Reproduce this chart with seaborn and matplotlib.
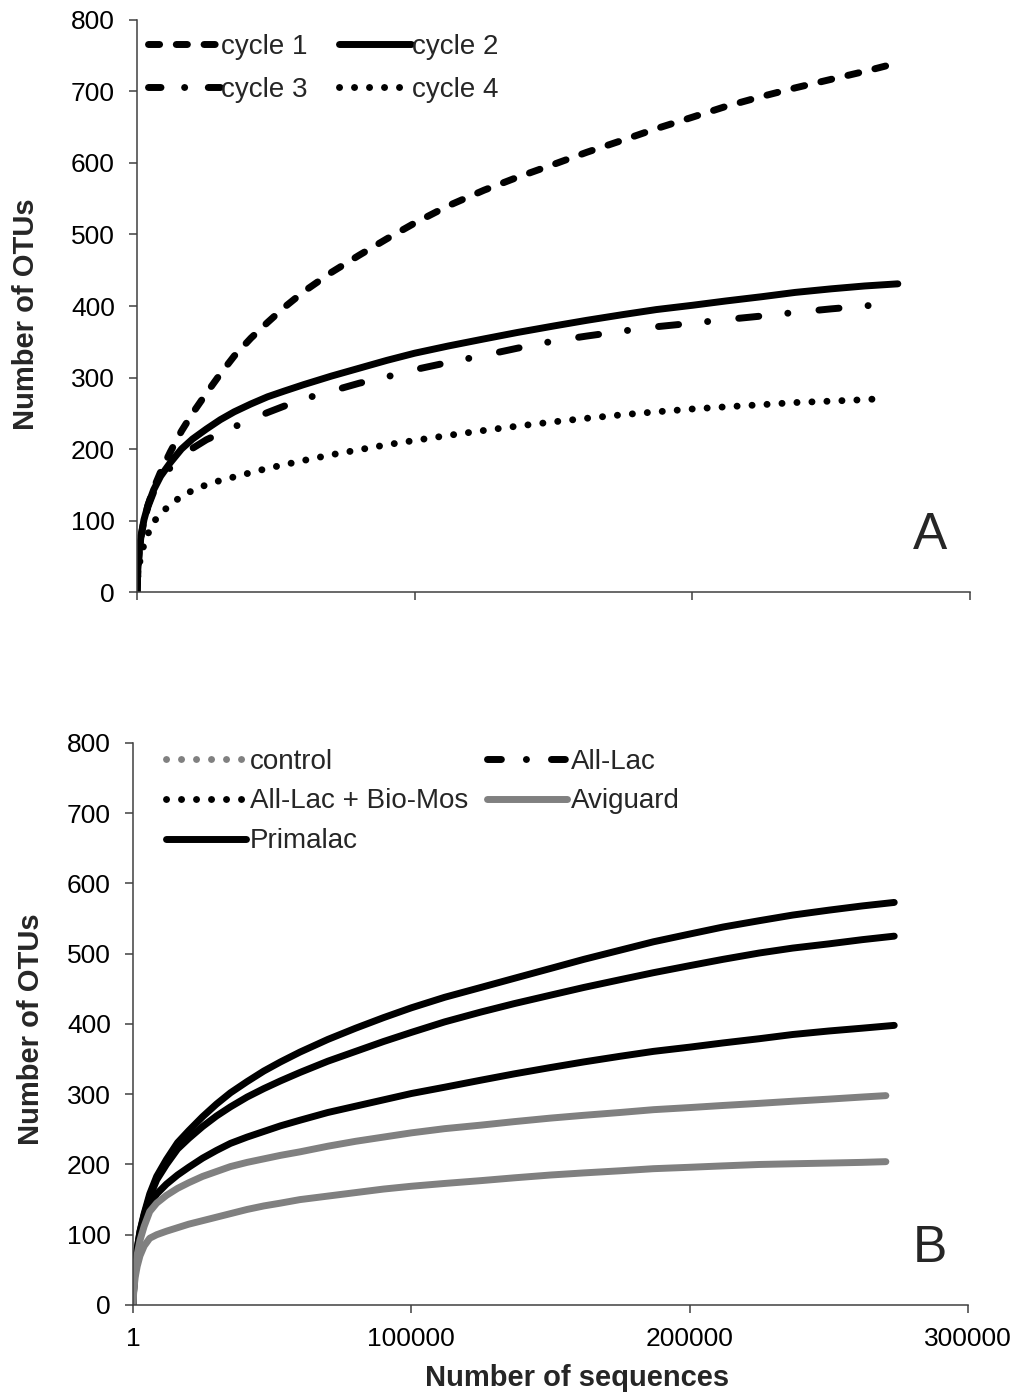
"""
Rarefaction curves (OTUs vs sequences): panel A by cycle, panel B by treatment.
Saves out.png
"""
import matplotlib
matplotlib.use("Agg")
import matplotlib.pyplot as plt
from matplotlib.lines import Line2D
import pandas as pd
import seaborn as sns

# Panel A: rarefaction by cycle
x_a = [1, 300, 800, 1500, 2500, 4000, 6000, 8500, 12000, 16000, 20000, 25000,
       30000, 35000, 41000, 47000, 53000, 60000, 70000, 80000, 90000, 100000,
       112000, 125000, 137000, 150000, 162000, 175000, 187000, 200000, 212000,
       225000, 237000, 250000, 262000, 274000]
x_a_c4 = x_a[:-1] + [270000]
cycle1 = [1, 30, 55, 78, 100, 122, 145, 168, 196, 225, 250, 278, 305, 330, 355,
          377, 398, 420, 447, 471, 494, 516, 540, 562, 580, 598, 615, 632, 648,
          664, 679, 693, 705, 717, 728, 740]
cycle2 = [1, 32, 57, 80, 101, 122, 143, 162, 181, 200, 214, 228, 241, 252, 263,
          273, 281, 290, 302, 313, 324, 334, 344, 354, 363, 372, 380, 388, 395,
          401, 407, 413, 419, 424, 428, 431]
cycle3 = [1, 30, 55, 78, 99, 120, 140, 157, 174, 190, 201, 213, 222, 231, 241,
          251, 260, 270, 281, 292, 301, 311, 321, 331, 341, 351, 358, 365, 371,
          376, 381, 386, 391, 396, 400, 405]
cycle4 = [1, 22, 38, 52, 66, 82, 98, 110, 122, 134, 142, 150, 156, 161, 167,
          173, 178, 184, 192, 199, 206, 212, 219, 226, 232, 238, 243, 248, 252,
          256, 259, 262, 265, 267, 269, 271]

# Panel B: rarefaction by treatment
x_b = x_a[:-1] + [273500]
x_b_gray = x_a[:-1] + [270500]
primalac = [1, 30, 55, 80, 105, 130, 158, 183, 207, 231, 248, 268, 286, 302,
            318, 333, 346, 360, 378, 394, 409, 423, 438, 452, 465, 479, 492,
            505, 517, 528, 538, 547, 555, 562, 568, 573]
all_lac = [1, 30, 55, 80, 104, 128, 154, 178, 200, 222, 237, 254, 269, 282,
           296, 308, 319, 331, 347, 361, 375, 388, 403, 417, 429, 441, 452,
           463, 473, 483, 492, 501, 508, 514, 520, 525]
all_lac_biomos = [1, 28, 52, 75, 97, 118, 142, 158, 172, 185, 196, 209, 220,
                  230, 239, 247, 255, 263, 274, 283, 292, 301, 310, 320, 329,
                  338, 346, 354, 361, 367, 373, 379, 385, 390, 394, 398]
aviguard = [1, 27, 50, 72, 92, 112, 133, 145, 156, 166, 174, 183, 190, 197,
            203, 208, 213, 218, 226, 233, 239, 245, 251, 256, 261, 266, 270,
            274, 278, 281, 284, 287, 290, 293, 296, 298]
control = [1, 22, 40, 55, 70, 84, 95, 100, 105, 110, 115, 120, 125, 130, 136,
           141, 145, 150, 155, 160, 165, 169, 173, 177, 181, 185, 188, 191,
           194, 196, 198, 200, 201, 202, 203, 204]

y_ticks = [0, 100, 200, 300, 400, 500, 600, 700, 800]
x_ticks = [1, 100000, 200000, 300000]
x_ticklabels = ["1", "100000", "200000", "300000"]


def long_form(series):
    rows = []
    for name, xs, ys in series:
        rows.append(pd.DataFrame({"seq": xs, "otus": ys, "group": name}))
    return pd.concat(rows, ignore_index=True)


df_a = long_form([("cycle 1", x_a, cycle1), ("cycle 2", x_a, cycle2),
                  ("cycle 3", x_a, cycle3), ("cycle 4", x_a_c4, cycle4)])
df_b = long_form([("Primalac", x_b, primalac), ("All-Lac", x_b, all_lac),
                  ("All-Lac + Bio-Mos", x_b, all_lac_biomos),
                  ("Aviguard", x_b_gray, aviguard), ("control", x_b_gray, control)])

sns.set_style("ticks")
plt.rcParams["font.family"] = ["Liberation Sans", "DejaVu Sans"]

LW = 5.0
DASH = (1.6, 2.4)
DASHDOT = (2.9, 4.2, 0.01, 4.5)
DOT = (0.01, 2.15)
# legend keys show "dash . dash"
DASHDOT_KEY_A = (1.8, 3.4, 0.01, 3.4)
DASHDOT_KEY_B = (2.0, 3.6, 0.01, 3.6)
SPINE = "#404040"
GRAY = "#808080"

fig = plt.figure(figsize=(10.24, 13.96), dpi=100)
ax_a = fig.add_axes([0.1338, 0.5759, 0.8135, 0.4098])
ax_b = fig.add_axes([0.1299, 0.0652, 0.8154, 0.4026])

# Panel A
sns.lineplot(data=df_a, x="seq", y="otus", hue="group", style="group",
             palette={"cycle 1": "black", "cycle 2": "black",
                      "cycle 3": "black", "cycle 4": "black"},
             dashes={"cycle 1": DASH, "cycle 2": "", "cycle 3": DASHDOT,
                     "cycle 4": DOT},
             estimator=None, sort=False, legend=False, linewidth=LW,
             dash_capstyle="round", solid_capstyle="round", ax=ax_a)

# Panel B: all curves drawn solid, as in the original
sns.lineplot(data=df_b, x="seq", y="otus", hue="group",
             palette={"Primalac": "black", "All-Lac": "black",
                      "All-Lac + Bio-Mos": "black", "Aviguard": GRAY,
                      "control": GRAY},
             estimator=None, sort=False, legend=False, linewidth=LW,
             solid_capstyle="round", ax=ax_b)

for ax in (ax_a, ax_b):
    ax.set_xlim(0, 300000)
    ax.set_ylim(0, 800)
    ax.set_yticks(y_ticks)
    ax.set_xticks(x_ticks)
    sns.despine(ax=ax)
    for s in ("left", "bottom"):
        ax.spines[s].set_color(SPINE)
        ax.spines[s].set_linewidth(1.1)
    ax.tick_params(axis="both", direction="out", length=6, width=1.1,
                   color=SPINE, labelsize=19, labelcolor="black")
    ax.tick_params(axis="y", pad=10)
    ax.tick_params(axis="x", pad=10)
    ax.set_ylabel("Number of OTUs", fontsize=21, fontweight="bold")
    ax.set_xlabel("")

ax_a.set_xticklabels([])
ax_b.set_xticklabels(x_ticklabels)
ax_b.set_xlabel("Number of sequences", fontsize=21, fontweight="bold")
ax_b.xaxis.set_label_coords(0.532, -0.105)
ax_a.yaxis.set_label_coords(-0.116, 0.485)
ax_b.yaxis.set_label_coords(-0.105, 0.49)

ax_a.text(0.952, 0.0997, "A", transform=ax_a.transAxes, fontsize=37,
          ha="center", va="center")
ax_b.text(0.9545, 0.101, "B", transform=ax_b.transAxes, fontsize=37,
          ha="center", va="center")


def handle(color, pattern):
    if pattern is None:
        return Line2D([], [], color=color, lw=LW, solid_capstyle="round")
    return Line2D([], [], color=color, lw=LW, linestyle=(0, pattern),
                  dash_capstyle="round")


# Legend A (column-first: cycle 1, cycle 3 | cycle 2, cycle 4)
h_a = [handle("black", DASH), handle("black", DASHDOT_KEY_A),
       handle("black", None), handle("black", DOT)]
l_a = ["cycle 1", "cycle 3", "cycle 2", "cycle 4"]
ax_a.legend(h_a, l_a, loc="upper left", bbox_to_anchor=(0.013, 0.976),
            ncol=2, frameon=False, fontsize=20, handlelength=2.6,
            handletextpad=0.05, columnspacing=1.1, labelspacing=0.63,
            borderpad=0, borderaxespad=0)

# Legend B
h_b = [handle(GRAY, DOT), handle("black", DOT), handle("black", None),
       handle("black", DASHDOT_KEY_B), handle(GRAY, None)]
l_b = ["control", "All-Lac + Bio-Mos", "Primalac", "All-Lac", "Aviguard"]
ax_b.legend(h_b, l_b, loc="upper left", bbox_to_anchor=(0.04, 0.99),
            ncol=2, frameon=False, fontsize=20, handlelength=2.85,
            handletextpad=0.15, columnspacing=0.7, labelspacing=0.5,
            borderpad=0, borderaxespad=0)

fig.savefig("out.png", dpi=100)
plt.close(fig)
